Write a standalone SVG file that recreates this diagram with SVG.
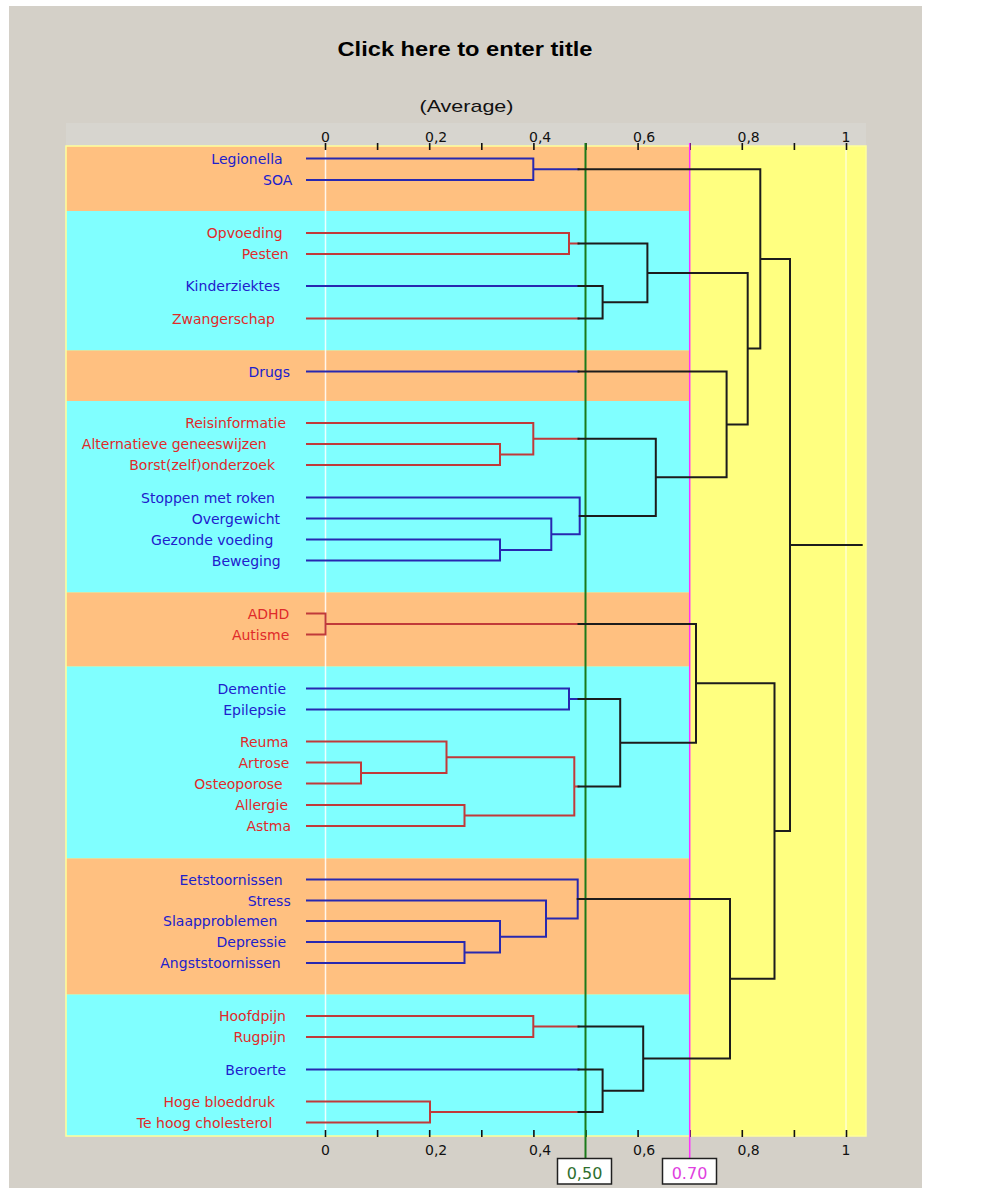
<svg xmlns="http://www.w3.org/2000/svg" width="987" height="1188" viewBox="0 0 987 1188">
<style>
.lb{font-family:"DejaVu Sans","Liberation Sans",sans-serif;font-size:14px;text-anchor:end}
.b{fill:#2020cc}
.r{fill:#e02a2a}
.ax{font-family:"DejaVu Sans","Liberation Sans",sans-serif;font-size:14px;fill:#111}
.cb{stroke:#2828b0;stroke-width:2;fill:none;stroke-linecap:square}
.cr{stroke:#c03a3a;stroke-width:2;fill:none;stroke-linecap:square}
.ck{stroke:#1c1c1c;stroke-width:2;fill:none;stroke-linecap:square}
.tk{stroke:#111;stroke-width:1.6;fill:none}
.or{fill:#ffc080}
.cy{fill:#80ffff}
</style>
<rect x="0" y="0" width="987" height="1188" fill="#ffffff"/>
<rect x="9" y="6" width="913" height="1182" fill="#d4d0c8"/>
<rect x="66" y="123" width="800" height="23" fill="#d7d5cf"/>
<g id="title">
<text x="337.5" y="56.3" font-family="'Liberation Sans',Arial,sans-serif" font-size="21" font-weight="bold" fill="#000" textLength="255" lengthAdjust="spacingAndGlyphs">Click here to enter title</text>
<text x="419.5" y="111.5" font-family="'Liberation Sans',Arial,sans-serif" font-size="17" fill="#111" textLength="94" lengthAdjust="spacingAndGlyphs">(Average)</text>
</g>
<g id="plot-background">
<rect x="66" y="146" width="800" height="990" fill="#ffff80"/>
<rect class="or" x="66" y="146" width="623.7" height="65"/>
<rect class="cy" x="66" y="211" width="623.7" height="139.5"/>
<rect class="or" x="66" y="350.5" width="623.7" height="50.5"/>
<rect class="cy" x="66" y="401" width="623.7" height="191.5"/>
<rect class="or" x="66" y="592.5" width="623.7" height="74"/>
<rect class="cy" x="66" y="666.5" width="623.7" height="192"/>
<rect class="or" x="66" y="858.5" width="623.7" height="136"/>
<rect class="cy" x="66" y="994.5" width="623.7" height="141.5"/>
<rect x="66" y="146" width="800" height="990" fill="none" stroke="#ffff9a" stroke-width="1.5"/>
<line x1="325.5" y1="146" x2="325.5" y2="1136" stroke="#ffffff" stroke-opacity="0.85" stroke-width="1.5"/>
<line x1="846" y1="146" x2="846" y2="1136" stroke="#ffffd0" stroke-width="1.5"/>
</g>
<g id="axes">
<path class="tk" d="M325.5 143V150M377.6 143V150M429.7 143V150M481.8 143V150M533.9 143V150M586 143V150M638.1 143V150M690.2 143V150M742.3 143V150M794.4 143V150M846.5 143V150"/>
<path class="tk" d="M325.5 1130V1137M377.6 1130V1137M429.7 1130V1137M481.8 1130V1137M533.9 1130V1137M586 1130V1137M638.1 1130V1137M690.2 1130V1137M742.3 1130V1137M794.4 1130V1137M846.5 1130V1137"/>
<text class="ax" x="321" y="141.5">0</text>
<text class="ax" x="425" y="141.5">0,2</text>
<text class="ax" x="529" y="141.5">0,4</text>
<text class="ax" x="633" y="141.5">0,6</text>
<text class="ax" x="737.5" y="141.5">0,8</text>
<text class="ax" x="841.5" y="141.5">1</text>
<text class="ax" x="321" y="1155">0</text>
<text class="ax" x="425" y="1155">0,2</text>
<text class="ax" x="529" y="1155">0,4</text>
<text class="ax" x="633" y="1155">0,6</text>
<text class="ax" x="737.5" y="1155">0,8</text>
<text class="ax" x="841.5" y="1155">1</text>
</g>
<g id="cut-lines">
<line x1="585.5" y1="143" x2="585.5" y2="1158.5" stroke="#1a7a1a" stroke-width="2"/>
<line x1="689.7" y1="143" x2="689.7" y2="1158.5" stroke="#ff30ff" stroke-width="1.5"/>
<rect x="557.5" y="1158.5" width="54" height="25.5" fill="#ffffff" stroke="#202020" stroke-width="1.5"/>
<text x="584.5" y="1178.5" font-family="'DejaVu Sans',sans-serif" font-size="16" fill="#2e6e2e" text-anchor="middle">0,50</text>
<rect x="662.5" y="1158.5" width="54" height="25.5" fill="#ffffff" stroke="#202020" stroke-width="1.5"/>
<text x="689.5" y="1178.5" font-family="'DejaVu Sans',sans-serif" font-size="16" fill="#e040e0" text-anchor="middle">0.70</text>
</g>
<g id="connectors">
<path class="cb" d="M307 158.5H533.3M307 180H533.3M533.3 158.5V180M533.3 169.25H578.5M307 286H578.5M307 371.5H578.5M307 539.5H500M307 560.5H500M500 539.5V560.5M307 518.5H551.3M500 550H551.3M551.3 518.5V550M307 497.5H579.7M551.3 534.25H579.7M579.7 497.5V534.25M307 688.5H569M307 709.5H569M569 688.5V709.5M569 699H578.5M307 942H464.5M307 963H464.5M464.5 942V963M307 921H500M464.5 952.5H500M500 921V952.5M307 900.5H546M500 936.75H546M546 900.5V936.75M307 879.5H577.7M546 918.6H577.7M577.7 879.5V918.6M307 1069.5H578.5"/>
<path class="cr" d="M307 233H569M307 254H569M569 233V254M569 243.5H578.5M307 318.5H578.5M307 444H500M307 465H500M500 444V465M307 423H533.3M500 454.5H533.3M533.3 423V454.5M533.3 438.75H578.5M307 613.5H325.5M307 634.5H325.5M325.5 613.5V634.5M325.5 624H578.5M307 762.5H361M307 783.5H361M361 762.5V783.5M307 741.5H446.5M361 773H446.5M446.5 741.5V773M307 805H464.5M307 826H464.5M464.5 805V826M446.5 757.25H574.3M464.5 815.5H574.3M574.3 757.25V815.5M574.3 786.4H578.5M307 1016H533.3M307 1037H533.3M533.3 1016V1037M533.3 1026.5H578.5M307 1101.5H430M307 1122.5H430M430 1101.5V1122.5M430 1112H578.5"/>
<path class="ck" d="M578.5 169.25H760.3M578.5 243.5H647.4M578.5 286H602.6M578.5 318.5H602.6M602.6 286V318.5M602.6 302.25H647.4M647.4 243.5V302.25M647.4 272.9H747.7M578.5 438.75H655.8M579.7 515.9H655.8M655.8 438.75V515.9M578.5 371.5H726.6M655.8 477.3H726.6M726.6 371.5V477.3M726.6 424.4H747.7M747.7 272.9V424.4M747.7 348.6H760.3M760.3 169.25V348.6M760.3 258.9H790M578.5 624H696M578.5 699H620.2M578.5 786.4H620.2M620.2 699V786.4M620.2 742.7H696M696 624V742.7M696 683.3H774.5M577.7 899H730M578.5 1026.5H643.2M578.5 1069.5H602.6M578.5 1112H602.6M602.6 1069.5V1112M602.6 1090.75H643.2M643.2 1026.5V1090.75M643.2 1058.6H730M730 899V1058.6M730 978.8H774.5M774.5 683.3V978.8M774.5 831H790M790 258.9V831M790 544.9H861.7"/>
</g>
<g id="node-legionella"><text class="lb b" x="282.7" y="163.5">Legionella</text></g>
<g id="node-soa"><text class="lb b" x="292.3" y="185">SOA</text></g>
<g id="node-opvoeding"><text class="lb r" x="282.7" y="238">Opvoeding</text></g>
<g id="node-pesten"><text class="lb r" x="288.7" y="259">Pesten</text></g>
<g id="node-kinderziektes"><text class="lb b" x="280" y="291">Kinderziektes</text></g>
<g id="node-zwangerschap"><text class="lb r" x="275" y="323.5">Zwangerschap</text></g>
<g id="node-drugs"><text class="lb b" x="290" y="376.5">Drugs</text></g>
<g id="node-reisinformatie"><text class="lb r" x="286" y="428">Reisinformatie</text></g>
<g id="node-alternatieve"><text class="lb r" x="266.7" y="449">Alternatieve geneeswijzen</text></g>
<g id="node-borst"><text class="lb r" x="275" y="470">Borst(zelf)onderzoek</text></g>
<g id="node-stoppen"><text class="lb b" x="275" y="502.5">Stoppen met roken</text></g>
<g id="node-overgewicht"><text class="lb b" x="280" y="523.5">Overgewicht</text></g>
<g id="node-gezonde"><text class="lb b" x="273.3" y="544.5">Gezonde voeding</text></g>
<g id="node-beweging"><text class="lb b" x="280.7" y="565.5">Beweging</text></g>
<g id="node-adhd"><text class="lb r" x="289.3" y="618.5">ADHD</text></g>
<g id="node-autisme"><text class="lb r" x="289.3" y="639.5">Autisme</text></g>
<g id="node-dementie"><text class="lb b" x="286" y="693.5">Dementie</text></g>
<g id="node-epilepsie"><text class="lb b" x="286" y="714.5">Epilepsie</text></g>
<g id="node-reuma"><text class="lb r" x="288.7" y="746.5">Reuma</text></g>
<g id="node-artrose"><text class="lb r" x="289.3" y="767.5">Artrose</text></g>
<g id="node-osteoporose"><text class="lb r" x="282.7" y="788.5">Osteoporose</text></g>
<g id="node-allergie"><text class="lb r" x="288" y="810">Allergie</text></g>
<g id="node-astma"><text class="lb r" x="291" y="831">Astma</text></g>
<g id="node-eetstoornissen"><text class="lb b" x="282.7" y="884.5">Eetstoornissen</text></g>
<g id="node-stress"><text class="lb b" x="290.7" y="905.5">Stress</text></g>
<g id="node-slaapproblemen"><text class="lb b" x="277.3" y="926">Slaapproblemen</text></g>
<g id="node-depressie"><text class="lb b" x="286" y="947">Depressie</text></g>
<g id="node-angststoornissen"><text class="lb b" x="280.7" y="968">Angststoornissen</text></g>
<g id="node-hoofdpijn"><text class="lb r" x="286" y="1021">Hoofdpijn</text></g>
<g id="node-rugpijn"><text class="lb r" x="286" y="1042">Rugpijn</text></g>
<g id="node-beroerte"><text class="lb b" x="286" y="1074.5">Beroerte</text></g>
<g id="node-hoge-bloeddruk"><text class="lb r" x="275" y="1106.5">Hoge bloeddruk</text></g>
<g id="node-cholesterol"><text class="lb r" x="272.3" y="1127.5">Te hoog cholesterol</text></g>
</svg>
